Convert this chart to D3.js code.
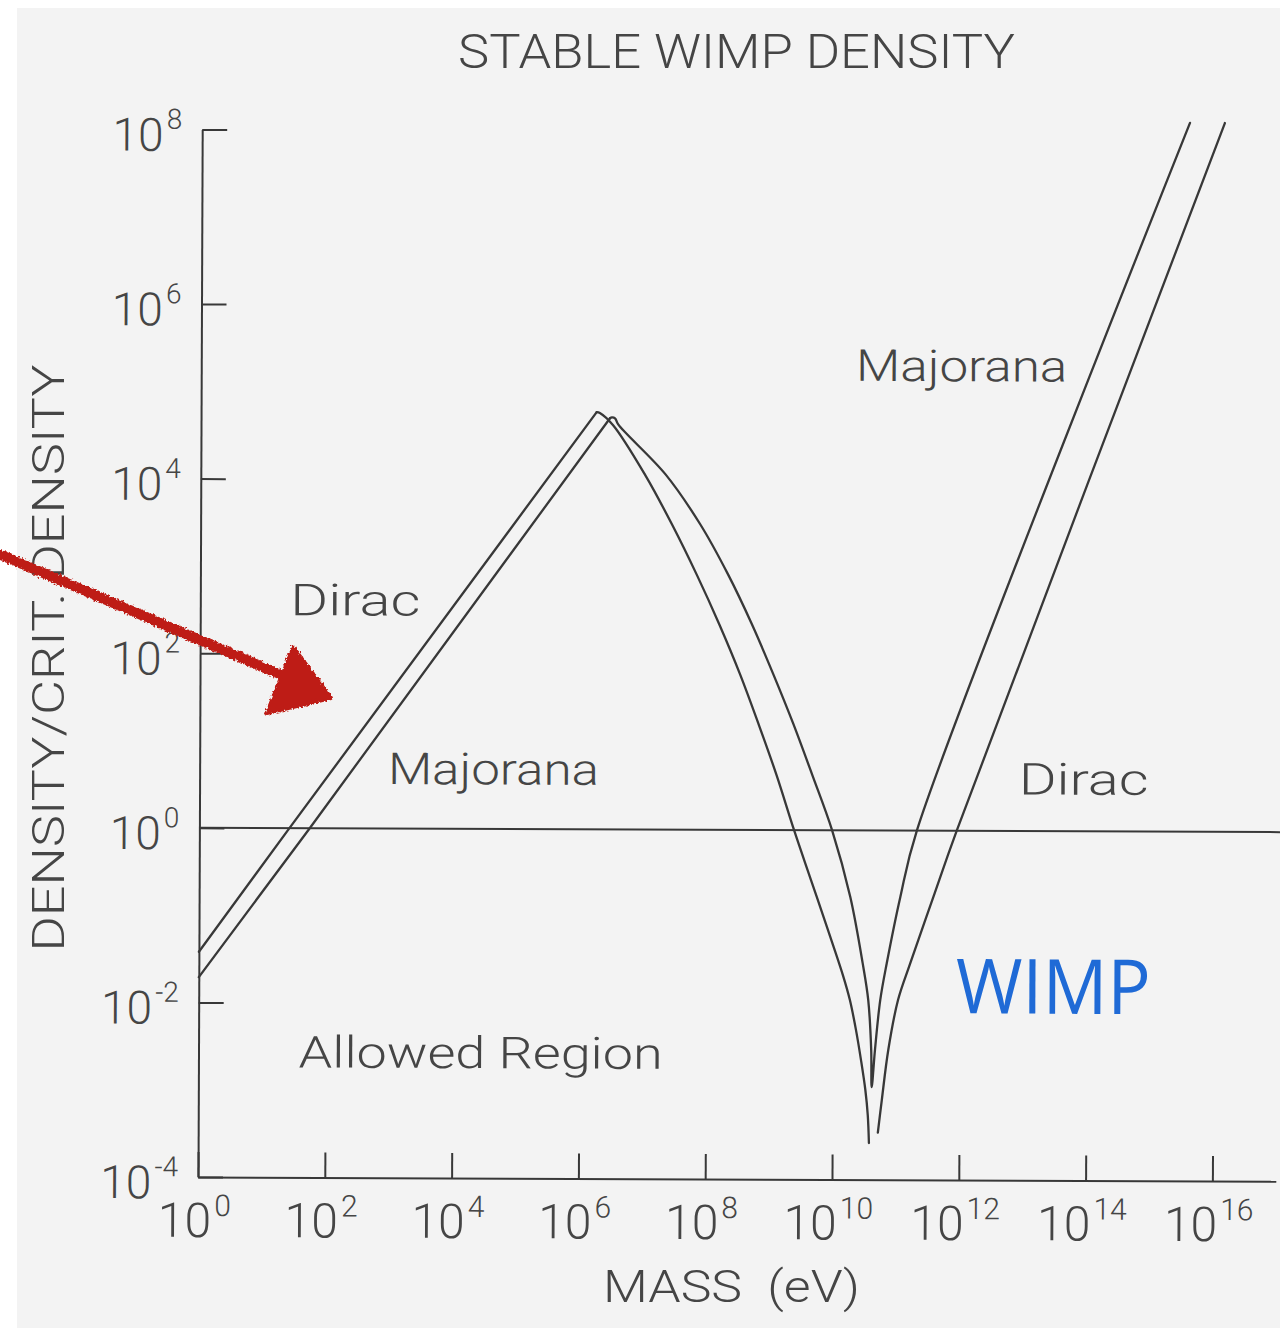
<!DOCTYPE html>
<html>
<head>
<meta charset="utf-8">
<title>Stable WIMP density</title>
<script src="https://cdn.jsdelivr.net/npm/d3@7"></script>
<style>
  html, body { margin: 0; padding: 0; background: #ffffff; }
  svg { display: block; }
  text { font-family: Roboto, "Open Sans", "DejaVu Sans", sans-serif; font-weight: 300; fill: #454545; }
</style>
</head>
<body>
<svg id="chart" width="1280" height="1331"></svg>
<script>
// ---- data: log10(mass / eV) and log10(density / critical density) ----
const xTickExponents = [0, 2, 4, 6, 8, 10, 12, 14, 16];
const yTickExponents = [-4, -2, 0, 2, 4, 6, 8];

// Dirac relic density (null marks the break at the bottom of the dip)
const diracLogMass = [0, 1.40, 6.24, 6.29, 6.50, 7.01, 7.44, 7.83, 8.19, 8.52, 8.82, 9.10, 9.38,
  9.65, 9.92, 10.16, 10.27, 10.37, 10.45, 10.52, 10.56, 10.58, null,
  10.72, 10.78, 10.88, 11.03, 11.22, 11.58, 11.95, 16.13];
const diracLogDensity = [-1.42, -0.02, 4.78, 4.77, 4.63, 4.06, 3.49, 2.92, 2.35, 1.78, 1.20, 0.63, 0.00,
  -0.57, -1.14, -1.66, -1.94, -2.29, -2.63, -2.97, -3.26, -3.58, null,
  -3.46, -3.09, -2.51, -1.94, -1.52, -0.76, 0.01, 8.12];

// Majorana relic density
const majoranaLogMass = [0, 1.72, 6.45, 6.48, 6.53, 6.58, 7.33, 7.88, 8.32, 8.70, 9.04, 9.36, 9.66, 9.98,
  10.27, 10.47, 10.56, 10.61, 10.62,
  10.67, 10.75, 10.85, 11.06, 11.32, 15.58];
const majoranaLogDensity = [-1.71, -0.02, 4.71, 4.72, 4.71, 4.64, 4.07, 3.50, 2.93, 2.36, 1.79, 1.22, 0.64, 0.00,
  -0.76, -1.52, -1.94, -2.51, -2.94,
  -2.51, -1.94, -1.52, -0.76, 0.01, 8.12];

// closure density line
const closureDensity = 1;

// region / curve annotations, anchored in data space
const labelTexts      = ["Dirac", "Majorana", "Majorana", "Dirac", "Allowed Region"];
const labelLogMass    = [1.42, 2.97, 10.33, 12.92, 1.58];
const labelLogDensity = [2.44, 0.51, 5.15, 0.42, -2.74];

// ---- layout ----
const ink = "#383838";
const origin = { x: 198, y: 1177 };
const pxPerDecadeX = 63.4;
const pxPerDecadeY = 87.3;
const labelWidths = { "Dirac": 130, "Majorana": 211, "Allowed Region": 364 };

const svg = d3.select("#chart");

const defs = svg.append("defs");
const rough = defs.append("filter").attr("id", "rough")
  .attr("x", "-10%").attr("y", "-10%").attr("width", "120%").attr("height", "120%");
rough.append("feTurbulence").attr("type", "fractalNoise").attr("baseFrequency", 0.45)
  .attr("numOctaves", 2).attr("seed", 3).attr("result", "noise");
rough.append("feDisplacementMap").attr("in", "SourceGraphic").attr("in2", "noise")
  .attr("scale", 5).attr("xChannelSelector", "R").attr("yChannelSelector", "G");

// paper
svg.append("rect").attr("x", 17).attr("y", 8).attr("width", 1263).attr("height", 1320)
  .attr("fill", "#f3f3f3");

const x = d3.scaleLog().domain([1, 1e17]).range([0, 17 * pxPerDecadeX]);
const y = d3.scaleLog().domain([1e-4, 1e8]).range([0, -12 * pxPerDecadeY]);

// the plotted frame sits very slightly skewed on the page
const plot = svg.append("g")
  .attr("transform", `translate(${origin.x},${origin.y}) rotate(0.23)`);

function styleAxis(g) {
  g.select(".domain").attr("stroke", ink).attr("stroke-width", 2);
  g.selectAll(".tick line").attr("stroke", ink).attr("stroke-width", 2);
  g.selectAll(".tick text").remove();
}

// x axis
const gx = plot.append("g")
  .call(d3.axisBottom(x)
    .tickValues(xTickExponents.map(e => Math.pow(10, e)))
    .tickSizeInner(-25).tickSizeOuter(0).tickFormat(""));
styleAxis(gx);
gx.selectAll(".tick").append("text")
  .attr("x", -4).attr("y", 60)
  .attr("text-anchor", "middle")
  .each(function (d) {
    const t = d3.select(this);
    t.append("tspan").attr("font-size", 48).text("10");
    t.append("tspan").attr("font-size", 30).attr("dx", 3).attr("dy", -21)
      .text(Math.round(Math.log10(d)));
  });

// y axis
const gy = plot.append("g")
  .call(d3.axisLeft(y)
    .tickValues(yTickExponents.map(e => Math.pow(10, e)))
    .tickSizeInner(-25).tickSizeOuter(0).tickFormat(""));
styleAxis(gy);
gy.selectAll(".tick").append("text")
  .attr("x", -20).attr("y", 21)
  .attr("text-anchor", "end")
  .each(function (d) {
    const t = d3.select(this);
    t.append("tspan").attr("font-size", 46).text("10");
    t.append("tspan").attr("font-size", 28).attr("dx", 3).attr("dy", -22)
      .text(Math.round(Math.log10(d)));
  });

// closure density
plot.append("line")
  .attr("x1", x(1)).attr("x2", x(1e17) + 3)
  .attr("y1", y(closureDensity)).attr("y2", y(closureDensity))
  .attr("stroke", ink).attr("stroke-width", 2);

// relic density curves: the power-law rise up to the first peak is straight
// on log-log axes; everything past that peak is drawn as a smooth spline
const riseLine = d3.line()
  .x(d => x(Math.pow(10, d[0])))
  .y(d => y(Math.pow(10, d[1])))
  .curve(d3.curveLinear);
const fallLine = d3.line()
  .defined(d => d[0] !== null)
  .x(d => x(Math.pow(10, d[0])))
  .y(d => y(Math.pow(10, d[1])))
  .curve(d3.curveCatmullRom.alpha(0.5));

function splitAtPeak(logMass, logDensity) {
  const pts = logMass.map((m, i) => [m, logDensity[i]]);
  // first local maximum (the freeze-out turnover)
  let peak = 0;
  while (peak + 1 < pts.length && pts[peak + 1][1] !== null && pts[peak + 1][1] >= pts[peak][1]) peak++;
  // the rise ends at the first vertex that reaches the top of that turnover
  const top = pts.findIndex(p => p[1] !== null && p[1] >= pts[peak][1] - 0.02);
  return [
    { pts: pts.slice(0, top + 1), gen: riseLine },
    { pts: pts.slice(top), gen: fallLine }
  ];
}

const pieces = [
  ...splitAtPeak(diracLogMass, diracLogDensity),
  ...splitAtPeak(majoranaLogMass, majoranaLogDensity)
];
plot.selectAll("path.relic").data(pieces).join("path")
  .attr("class", "relic")
  .attr("d", d => d.gen(d.pts))
  .attr("fill", "none")
  .attr("stroke", ink)
  .attr("stroke-width", 2.3)
  .attr("stroke-linejoin", "round")
  .attr("stroke-linecap", "round");

// annotations
plot.selectAll("text.region").data(labelTexts).join("text")
  .attr("class", "region")
  .attr("x", (d, i) => x(Math.pow(10, labelLogMass[i])))
  .attr("y", (d, i) => y(Math.pow(10, labelLogDensity[i])))
  .attr("font-size", 44)
  .attr("textLength", d => labelWidths[d])
  .attr("lengthAdjust", "spacingAndGlyphs")
  .text(d => d);

// blue overlay label
plot.append("text")
  .attr("x", x(Math.pow(10, 11.94))).attr("y", y(Math.pow(10, -2.09)))
  .attr("font-size", 76)
  .attr("textLength", 195).attr("lengthAdjust", "spacingAndGlyphs")
  .style("font-family", "'Open Sans', Lato, sans-serif")
  .style("font-weight", 400)
  .style("fill", "#1f6ad6")
  .text("WIMP");

// titles
svg.append("text")
  .attr("x", 458).attr("y", 68)
  .attr("font-size", 49)
  .attr("textLength", 557).attr("lengthAdjust", "spacingAndGlyphs")
  .text("STABLE WIMP DENSITY");

svg.append("text")
  .attr("x", 603).attr("y", 1302)
  .attr("font-size", 45)
  .attr("textLength", 257).attr("lengthAdjust", "spacingAndGlyphs")
  .style("white-space", "pre")
  .text("MASS  (eV)");

svg.append("text")
  .attr("transform", "translate(64,658) rotate(-90)")
  .attr("text-anchor", "middle")
  .attr("font-size", 44)
  .attr("textLength", 587).attr("lengthAdjust", "spacingAndGlyphs")
  .text("DENSITY/CRIT. DENSITY");

// hand-drawn red pointer
const arrow = svg.append("g").attr("filter", "url(#rough)");
arrow.append("path")
  .attr("d", "M-6,552 L284,676")
  .attr("stroke", "#be1f18").attr("stroke-width", 10).attr("stroke-linecap", "round")
  .attr("fill", "none");
arrow.append("path")
  .attr("d", "M293,647 L331,698 L267,713 Z")
  .attr("fill", "#be1f18").attr("stroke", "#be1f18").attr("stroke-width", 4)
  .attr("stroke-linejoin", "round");
</script>
</body>
</html>
